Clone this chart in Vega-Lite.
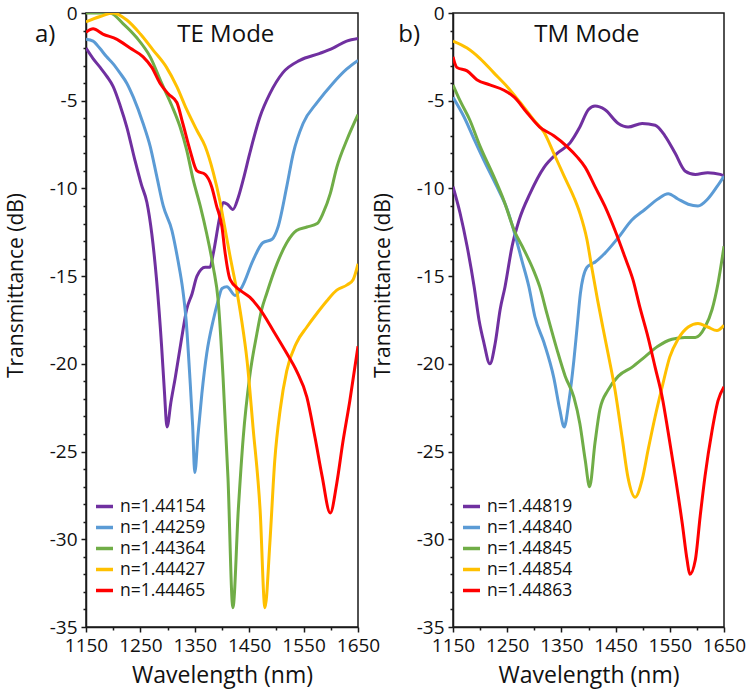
{
  "$schema": "https://vega.github.io/schema/vega-lite/v6.json",
  "padding": {"left": 4, "top": 3, "right": 5, "bottom": 2},
  "config": {
    "font": "Open Sans",
    "view": {"stroke": "#1a1a1a", "strokeWidth": 1.5},
    "axis": {"labelFont": "Open Sans", "titleFont": "Open Sans", "labelColor": "#111", "titleColor": "#111", "labelFontSize": 19, "titleFontSize": 23, "titleFontWeight": "normal", "grid": false, "domainColor": "#1a1a1a", "domainWidth": 1.5, "tickColor": "#1a1a1a", "tickWidth": 1.5, "tickSize": 5, "labelPadding": 4, "labelOverlap": false, "labelFlush": false, "labelExpr": "datum.value"},
    "legend": {"labelFont": "Open Sans", "labelFontSize": 17.5, "labelColor": "#111"},
    "text": {"font": "Open Sans", "color": "#111"}
  },
  "bounds": "flush",
  "spacing": 95,
  "resolve": {"scale": {"color": "independent"}, "legend": {"color": "independent"}},
  "datasets": {
    "te": [
      {"s":"n=1.44154","x":1150,"y":-2.0},{"s":"n=1.44154","x":1163,"y":-2.6},{"s":"n=1.44154","x":1176,"y":-3.1},{"s":"n=1.44154","x":1188,"y":-3.6},{"s":"n=1.44154","x":1200,"y":-4.2},{"s":"n=1.44154","x":1213,"y":-5.3},{"s":"n=1.44154","x":1225,"y":-6.5},{"s":"n=1.44154","x":1240,"y":-8.4},{"s":"n=1.44154","x":1252,"y":-9.8},{"s":"n=1.44154","x":1262,"y":-10.8},{"s":"n=1.44154","x":1271,"y":-12.6},{"s":"n=1.44154","x":1280,"y":-15.3},{"s":"n=1.44154","x":1289,"y":-19.0},{"s":"n=1.44154","x":1294,"y":-21.5},{"s":"n=1.44154","x":1299,"y":-23.6},{"s":"n=1.44154","x":1306,"y":-22.2},{"s":"n=1.44154","x":1314,"y":-20.8},{"s":"n=1.44154","x":1326,"y":-18.5},{"s":"n=1.44154","x":1335,"y":-16.9},{"s":"n=1.44154","x":1345,"y":-16.0},{"s":"n=1.44154","x":1354,"y":-15.0},{"s":"n=1.44154","x":1369,"y":-14.5},{"s":"n=1.44154","x":1378,"y":-14.5},{"s":"n=1.44154","x":1384,"y":-13.7},{"s":"n=1.44154","x":1396,"y":-11.6},{"s":"n=1.44154","x":1402,"y":-10.8},{"s":"n=1.44154","x":1410,"y":-10.9},{"s":"n=1.44154","x":1420,"y":-11.2},{"s":"n=1.44154","x":1430,"y":-10.5},{"s":"n=1.44154","x":1439,"y":-9.5},{"s":"n=1.44154","x":1451,"y":-8.0},{"s":"n=1.44154","x":1470,"y":-5.9},{"s":"n=1.44154","x":1488,"y":-4.6},{"s":"n=1.44154","x":1512,"y":-3.4},{"s":"n=1.44154","x":1543,"y":-2.7},{"s":"n=1.44154","x":1580,"y":-2.3},{"s":"n=1.44154","x":1604,"y":-2.0},{"s":"n=1.44154","x":1629,"y":-1.6},{"s":"n=1.44154","x":1650,"y":-1.45},
      {"s":"n=1.44259","x":1150,"y":-1.5},{"s":"n=1.44259","x":1163,"y":-1.6},{"s":"n=1.44259","x":1175,"y":-2.0},{"s":"n=1.44259","x":1188,"y":-2.5},{"s":"n=1.44259","x":1200,"y":-2.9},{"s":"n=1.44259","x":1212,"y":-3.4},{"s":"n=1.44259","x":1225,"y":-4.0},{"s":"n=1.44259","x":1237,"y":-4.8},{"s":"n=1.44259","x":1255,"y":-6.3},{"s":"n=1.44259","x":1268,"y":-7.6},{"s":"n=1.44259","x":1280,"y":-9.3},{"s":"n=1.44259","x":1292,"y":-11.0},{"s":"n=1.44259","x":1308,"y":-12.4},{"s":"n=1.44259","x":1319,"y":-14.1},{"s":"n=1.44259","x":1328,"y":-15.8},{"s":"n=1.44259","x":1334,"y":-17.5},{"s":"n=1.44259","x":1341,"y":-20.8},{"s":"n=1.44259","x":1346,"y":-23.5},{"s":"n=1.44259","x":1350,"y":-26.2},{"s":"n=1.44259","x":1356,"y":-24.0},{"s":"n=1.44259","x":1363,"y":-21.7},{"s":"n=1.44259","x":1372,"y":-19.4},{"s":"n=1.44259","x":1384,"y":-17.5},{"s":"n=1.44259","x":1392,"y":-16.5},{"s":"n=1.44259","x":1400,"y":-15.7},{"s":"n=1.44259","x":1409,"y":-15.6},{"s":"n=1.44259","x":1424,"y":-16.1},{"s":"n=1.44259","x":1437,"y":-15.6},{"s":"n=1.44259","x":1457,"y":-14.1},{"s":"n=1.44259","x":1475,"y":-13.1},{"s":"n=1.44259","x":1492,"y":-12.9},{"s":"n=1.44259","x":1503,"y":-12.2},{"s":"n=1.44259","x":1519,"y":-9.9},{"s":"n=1.44259","x":1531,"y":-8.0},{"s":"n=1.44259","x":1549,"y":-6.3},{"s":"n=1.44259","x":1575,"y":-5.1},{"s":"n=1.44259","x":1604,"y":-4.0},{"s":"n=1.44259","x":1629,"y":-3.2},{"s":"n=1.44259","x":1650,"y":-2.7},
      {"s":"n=1.44364","x":1150,"y":0},{"s":"n=1.44364","x":1170,"y":0},{"s":"n=1.44364","x":1194,"y":0},{"s":"n=1.44364","x":1218,"y":-0.6},{"s":"n=1.44364","x":1243,"y":-1.4},{"s":"n=1.44364","x":1268,"y":-2.5},{"s":"n=1.44364","x":1289,"y":-4.0},{"s":"n=1.44364","x":1308,"y":-5.3},{"s":"n=1.44364","x":1323,"y":-6.5},{"s":"n=1.44364","x":1335,"y":-7.8},{"s":"n=1.44364","x":1347,"y":-9.5},{"s":"n=1.44364","x":1360,"y":-11.0},{"s":"n=1.44364","x":1372,"y":-12.6},{"s":"n=1.44364","x":1384,"y":-14.5},{"s":"n=1.44364","x":1393,"y":-16.4},{"s":"n=1.44364","x":1402,"y":-20.8},{"s":"n=1.44364","x":1411,"y":-26.5},{"s":"n=1.44364","x":1420,"y":-33.9},{"s":"n=1.44364","x":1430,"y":-28.3},{"s":"n=1.44364","x":1439,"y":-24.2},{"s":"n=1.44364","x":1451,"y":-20.7},{"s":"n=1.44364","x":1464,"y":-18.3},{"s":"n=1.44364","x":1473,"y":-16.9},{"s":"n=1.44364","x":1482,"y":-16.0},{"s":"n=1.44364","x":1501,"y":-14.3},{"s":"n=1.44364","x":1519,"y":-13.1},{"s":"n=1.44364","x":1537,"y":-12.4},{"s":"n=1.44364","x":1556,"y":-12.2},{"s":"n=1.44364","x":1575,"y":-12.0},{"s":"n=1.44364","x":1586,"y":-11.4},{"s":"n=1.44364","x":1599,"y":-10.3},{"s":"n=1.44364","x":1611,"y":-8.8},{"s":"n=1.44364","x":1630,"y":-7.2},{"s":"n=1.44364","x":1650,"y":-5.8},
      {"s":"n=1.44427","x":1150,"y":-0.5},{"s":"n=1.44427","x":1176,"y":-0.2},{"s":"n=1.44427","x":1200,"y":0},{"s":"n=1.44427","x":1225,"y":-0.4},{"s":"n=1.44427","x":1250,"y":-1.2},{"s":"n=1.44427","x":1273,"y":-2.1},{"s":"n=1.44427","x":1298,"y":-3.1},{"s":"n=1.44427","x":1317,"y":-4.2},{"s":"n=1.44427","x":1335,"y":-5.5},{"s":"n=1.44427","x":1354,"y":-6.7},{"s":"n=1.44427","x":1369,"y":-7.6},{"s":"n=1.44427","x":1384,"y":-9.1},{"s":"n=1.44427","x":1396,"y":-10.7},{"s":"n=1.44427","x":1405,"y":-12.2},{"s":"n=1.44427","x":1415,"y":-13.9},{"s":"n=1.44427","x":1427,"y":-15.8},{"s":"n=1.44427","x":1436,"y":-17.5},{"s":"n=1.44427","x":1446,"y":-19.8},{"s":"n=1.44427","x":1457,"y":-23.6},{"s":"n=1.44427","x":1470,"y":-28.3},{"s":"n=1.44427","x":1479,"y":-33.9},{"s":"n=1.44427","x":1488,"y":-30.2},{"s":"n=1.44427","x":1497,"y":-25.5},{"s":"n=1.44427","x":1507,"y":-22.6},{"s":"n=1.44427","x":1519,"y":-20.4},{"s":"n=1.44427","x":1537,"y":-18.8},{"s":"n=1.44427","x":1556,"y":-17.9},{"s":"n=1.44427","x":1575,"y":-17.1},{"s":"n=1.44427","x":1593,"y":-16.4},{"s":"n=1.44427","x":1611,"y":-15.8},{"s":"n=1.44427","x":1630,"y":-15.5},{"s":"n=1.44427","x":1641,"y":-15.2},{"s":"n=1.44427","x":1650,"y":-14.3},
      {"s":"n=1.44465","x":1150,"y":-1.1},{"s":"n=1.44465","x":1163,"y":-0.9},{"s":"n=1.44465","x":1181,"y":-1.2},{"s":"n=1.44465","x":1207,"y":-1.5},{"s":"n=1.44465","x":1231,"y":-2.0},{"s":"n=1.44465","x":1255,"y":-2.5},{"s":"n=1.44465","x":1271,"y":-3.1},{"s":"n=1.44465","x":1286,"y":-4.0},{"s":"n=1.44465","x":1301,"y":-4.6},{"s":"n=1.44465","x":1317,"y":-5.1},{"s":"n=1.44465","x":1328,"y":-6.3},{"s":"n=1.44465","x":1341,"y":-7.8},{"s":"n=1.44465","x":1354,"y":-9.0},{"s":"n=1.44465","x":1369,"y":-9.2},{"s":"n=1.44465","x":1381,"y":-9.9},{"s":"n=1.44465","x":1390,"y":-11.0},{"s":"n=1.44465","x":1400,"y":-12.2},{"s":"n=1.44465","x":1405,"y":-13.5},{"s":"n=1.44465","x":1415,"y":-15.2},{"s":"n=1.44465","x":1433,"y":-15.8},{"s":"n=1.44465","x":1451,"y":-16.2},{"s":"n=1.44465","x":1470,"y":-16.9},{"s":"n=1.44465","x":1494,"y":-18.1},{"s":"n=1.44465","x":1519,"y":-19.4},{"s":"n=1.44465","x":1537,"y":-20.4},{"s":"n=1.44465","x":1556,"y":-21.9},{"s":"n=1.44465","x":1571,"y":-24.2},{"s":"n=1.44465","x":1584,"y":-26.4},{"s":"n=1.44465","x":1599,"y":-28.5},{"s":"n=1.44465","x":1611,"y":-26.8},{"s":"n=1.44465","x":1622,"y":-24.5},{"s":"n=1.44465","x":1635,"y":-22.1},{"s":"n=1.44465","x":1650,"y":-19.0}
    ],
    "tm": [
      {"s":"n=1.44819","x":1150,"y":-9.9},{"s":"n=1.44819","x":1163,"y":-11.4},{"s":"n=1.44819","x":1176,"y":-13.3},{"s":"n=1.44819","x":1189,"y":-15.6},{"s":"n=1.44819","x":1198,"y":-17.5},{"s":"n=1.44819","x":1207,"y":-18.8},{"s":"n=1.44819","x":1218,"y":-20.0},{"s":"n=1.44819","x":1228,"y":-18.8},{"s":"n=1.44819","x":1237,"y":-16.9},{"s":"n=1.44819","x":1246,"y":-15.6},{"s":"n=1.44819","x":1259,"y":-13.3},{"s":"n=1.44819","x":1272,"y":-11.8},{"s":"n=1.44819","x":1292,"y":-10.3},{"s":"n=1.44819","x":1318,"y":-8.8},{"s":"n=1.44819","x":1342,"y":-8.0},{"s":"n=1.44819","x":1366,"y":-7.4},{"s":"n=1.44819","x":1384,"y":-6.5},{"s":"n=1.44819","x":1400,"y":-5.5},{"s":"n=1.44819","x":1412,"y":-5.3},{"s":"n=1.44819","x":1430,"y":-5.5},{"s":"n=1.44819","x":1455,"y":-6.3},{"s":"n=1.44819","x":1473,"y":-6.5},{"s":"n=1.44819","x":1499,"y":-6.3},{"s":"n=1.44819","x":1523,"y":-6.4},{"s":"n=1.44819","x":1541,"y":-7.0},{"s":"n=1.44819","x":1560,"y":-8.0},{"s":"n=1.44819","x":1578,"y":-9.0},{"s":"n=1.44819","x":1597,"y":-9.2},{"s":"n=1.44819","x":1620,"y":-9.1},{"s":"n=1.44819","x":1643,"y":-9.2},{"s":"n=1.44819","x":1650,"y":-9.3},
      {"s":"n=1.44840","x":1150,"y":-4.8},{"s":"n=1.44840","x":1170,"y":-5.9},{"s":"n=1.44840","x":1189,"y":-7.2},{"s":"n=1.44840","x":1207,"y":-8.4},{"s":"n=1.44840","x":1231,"y":-9.9},{"s":"n=1.44840","x":1250,"y":-11.2},{"s":"n=1.44840","x":1264,"y":-12.6},{"s":"n=1.44840","x":1277,"y":-14.1},{"s":"n=1.44840","x":1290,"y":-15.6},{"s":"n=1.44840","x":1301,"y":-17.3},{"s":"n=1.44840","x":1318,"y":-18.8},{"s":"n=1.44840","x":1336,"y":-20.8},{"s":"n=1.44840","x":1347,"y":-22.6},{"s":"n=1.44840","x":1355,"y":-23.6},{"s":"n=1.44840","x":1364,"y":-22.1},{"s":"n=1.44840","x":1373,"y":-19.8},{"s":"n=1.44840","x":1379,"y":-17.9},{"s":"n=1.44840","x":1385,"y":-16.0},{"s":"n=1.44840","x":1397,"y":-14.5},{"s":"n=1.44840","x":1406,"y":-14.3},{"s":"n=1.44840","x":1412,"y":-14.2},{"s":"n=1.44840","x":1430,"y":-13.7},{"s":"n=1.44840","x":1455,"y":-12.8},{"s":"n=1.44840","x":1480,"y":-11.8},{"s":"n=1.44840","x":1504,"y":-11.2},{"s":"n=1.44840","x":1528,"y":-10.6},{"s":"n=1.44840","x":1547,"y":-10.3},{"s":"n=1.44840","x":1565,"y":-10.6},{"s":"n=1.44840","x":1584,"y":-10.9},{"s":"n=1.44840","x":1602,"y":-11.0},{"s":"n=1.44840","x":1620,"y":-10.6},{"s":"n=1.44840","x":1637,"y":-9.9},{"s":"n=1.44840","x":1650,"y":-9.3},
      {"s":"n=1.44845","x":1150,"y":-4.1},{"s":"n=1.44845","x":1163,"y":-5.0},{"s":"n=1.44845","x":1181,"y":-6.1},{"s":"n=1.44845","x":1200,"y":-7.6},{"s":"n=1.44845","x":1225,"y":-9.3},{"s":"n=1.44845","x":1244,"y":-10.7},{"s":"n=1.44845","x":1263,"y":-12.4},{"s":"n=1.44845","x":1281,"y":-13.5},{"s":"n=1.44845","x":1299,"y":-14.7},{"s":"n=1.44845","x":1310,"y":-15.6},{"s":"n=1.44845","x":1323,"y":-17.1},{"s":"n=1.44845","x":1342,"y":-19.2},{"s":"n=1.44845","x":1357,"y":-20.7},{"s":"n=1.44845","x":1373,"y":-21.9},{"s":"n=1.44845","x":1384,"y":-23.4},{"s":"n=1.44845","x":1394,"y":-25.5},{"s":"n=1.44845","x":1402,"y":-27.0},{"s":"n=1.44845","x":1412,"y":-24.5},{"s":"n=1.44845","x":1421,"y":-22.6},{"s":"n=1.44845","x":1436,"y":-21.5},{"s":"n=1.44845","x":1455,"y":-20.7},{"s":"n=1.44845","x":1480,"y":-20.2},{"s":"n=1.44845","x":1504,"y":-19.6},{"s":"n=1.44845","x":1528,"y":-19.0},{"s":"n=1.44845","x":1554,"y":-18.6},{"s":"n=1.44845","x":1578,"y":-18.5},{"s":"n=1.44845","x":1597,"y":-18.5},{"s":"n=1.44845","x":1615,"y":-17.9},{"s":"n=1.44845","x":1628,"y":-16.9},{"s":"n=1.44845","x":1639,"y":-15.4},{"s":"n=1.44845","x":1650,"y":-13.3},
      {"s":"n=1.44854","x":1150,"y":-1.6},{"s":"n=1.44854","x":1176,"y":-2.0},{"s":"n=1.44854","x":1200,"y":-2.6},{"s":"n=1.44854","x":1225,"y":-3.4},{"s":"n=1.44854","x":1250,"y":-4.2},{"s":"n=1.44854","x":1274,"y":-5.1},{"s":"n=1.44854","x":1299,"y":-6.1},{"s":"n=1.44854","x":1318,"y":-6.8},{"s":"n=1.44854","x":1336,"y":-8.0},{"s":"n=1.44854","x":1355,"y":-9.3},{"s":"n=1.44854","x":1373,"y":-10.5},{"s":"n=1.44854","x":1384,"y":-11.4},{"s":"n=1.44854","x":1397,"y":-12.9},{"s":"n=1.44854","x":1406,"y":-14.5},{"s":"n=1.44854","x":1417,"y":-16.4},{"s":"n=1.44854","x":1427,"y":-18.0},{"s":"n=1.44854","x":1436,"y":-19.4},{"s":"n=1.44854","x":1449,"y":-21.5},{"s":"n=1.44854","x":1462,"y":-24.2},{"s":"n=1.44854","x":1473,"y":-26.5},{"s":"n=1.44854","x":1486,"y":-27.6},{"s":"n=1.44854","x":1499,"y":-26.6},{"s":"n=1.44854","x":1510,"y":-24.9},{"s":"n=1.44854","x":1523,"y":-23.0},{"s":"n=1.44854","x":1536,"y":-21.3},{"s":"n=1.44854","x":1550,"y":-19.6},{"s":"n=1.44854","x":1565,"y":-18.6},{"s":"n=1.44854","x":1584,"y":-17.9},{"s":"n=1.44854","x":1602,"y":-17.7},{"s":"n=1.44854","x":1620,"y":-17.9},{"s":"n=1.44854","x":1637,"y":-18.1},{"s":"n=1.44854","x":1650,"y":-17.8},
      {"s":"n=1.44863","x":1150,"y":-2.5},{"s":"n=1.44863","x":1157,"y":-3.1},{"s":"n=1.44863","x":1176,"y":-3.3},{"s":"n=1.44863","x":1194,"y":-3.8},{"s":"n=1.44863","x":1218,"y":-4.1},{"s":"n=1.44863","x":1244,"y":-4.4},{"s":"n=1.44863","x":1263,"y":-4.8},{"s":"n=1.44863","x":1287,"y":-5.7},{"s":"n=1.44863","x":1310,"y":-6.5},{"s":"n=1.44863","x":1336,"y":-7.0},{"s":"n=1.44863","x":1360,"y":-7.6},{"s":"n=1.44863","x":1379,"y":-8.2},{"s":"n=1.44863","x":1394,"y":-8.8},{"s":"n=1.44863","x":1412,"y":-9.9},{"s":"n=1.44863","x":1430,"y":-11.0},{"s":"n=1.44863","x":1449,"y":-12.4},{"s":"n=1.44863","x":1467,"y":-13.9},{"s":"n=1.44863","x":1482,"y":-15.2},{"s":"n=1.44863","x":1495,"y":-16.8},{"s":"n=1.44863","x":1510,"y":-18.5},{"s":"n=1.44863","x":1523,"y":-20.2},{"s":"n=1.44863","x":1536,"y":-21.9},{"s":"n=1.44863","x":1547,"y":-23.9},{"s":"n=1.44863","x":1560,"y":-26.4},{"s":"n=1.44863","x":1573,"y":-29.1},{"s":"n=1.44863","x":1582,"y":-31.2},{"s":"n=1.44863","x":1587,"y":-32.0},{"s":"n=1.44863","x":1597,"y":-31.2},{"s":"n=1.44863","x":1606,"y":-28.7},{"s":"n=1.44863","x":1615,"y":-26.4},{"s":"n=1.44863","x":1628,"y":-23.8},{"s":"n=1.44863","x":1639,"y":-22.1},{"s":"n=1.44863","x":1650,"y":-21.3}
    ]
  },
  "hconcat": [
    {
      "width": 272,
      "height": 614,
      "layer": [
        {
          "data": {"name": "te"},
          "mark": {"type": "line", "strokeWidth": 3, "interpolate": "monotone", "clip": true},
          "encoding": {
            "x": {"field": "x", "type": "quantitative", "scale": {"domain": [1150, 1650], "nice": false, "zero": false}, "axis": {"values": [1150, 1250, 1350, 1450, 1550, 1650], "title": "Wavelength (nm)", "titlePadding": 9, "labelPadding": 4}},
            "y": {"field": "y", "type": "quantitative", "scale": {"domain": [-35, 0], "nice": false, "zero": false}, "axis": {"values": [0, -5, -10, -15, -20, -25, -30, -35], "title": "Transmittance (dB)", "titleFontSize": 21, "titlePadding": 23, "titleY": 272}},
            "color": {"field": "s", "type": "nominal", "scale": {"domain": ["n=1.44154", "n=1.44259", "n=1.44364", "n=1.44427", "n=1.44465"], "range": ["#7030A0", "#5B9BD5", "#70AD47", "#FFC000", "#FF0000"]}, "legend": {"orient": "none", "legendX": 8, "legendY": 483, "title": null, "symbolType": "stroke", "symbolStrokeWidth": 3.5, "symbolSize": 289, "rowPadding": 2, "labelOffset": 5, "padding": 0}}
          }
        },
        {
          "data": {"values": [{"x": 1407, "y": -1.25, "t": "TE Mode"}, {"x": 1075, "y": -1.25, "t": "a)"}]},
          "mark": {"type": "text", "fontSize": 24},
          "encoding": {
            "x": {"field": "x", "type": "quantitative", "scale": {"domain": [1150, 1650], "nice": false, "zero": false}, "axis": {"orient": "bottom", "values": [1200, 1300, 1400, 1500, 1600], "labels": false, "domain": false, "tickSize": 3, "title": null}},
            "y": {"field": "y", "type": "quantitative", "scale": {"domain": [-35, 0], "nice": false, "zero": false}, "axis": {"orient": "left", "values": [-1, -2, -3, -4, -6, -7, -8, -9, -11, -12, -13, -14, -16, -17, -18, -19, -21, -22, -23, -24, -26, -27, -28, -29, -31, -32, -33, -34], "labels": false, "domain": false, "tickSize": 3, "title": null}},
            "text": {"field": "t"}
          }
        }
      ],
      "resolve": {"axis": {"x": "independent", "y": "independent"}}
    },
    {
      "width": 271,
      "height": 614,
      "layer": [
        {
          "data": {"name": "tm"},
          "mark": {"type": "line", "strokeWidth": 3, "interpolate": "monotone", "clip": true},
          "encoding": {
            "x": {"field": "x", "type": "quantitative", "scale": {"domain": [1150, 1650], "nice": false, "zero": false}, "axis": {"values": [1150, 1250, 1350, 1450, 1550, 1650], "title": "Wavelength (nm)", "titlePadding": 9, "labelPadding": 4}},
            "y": {"field": "y", "type": "quantitative", "scale": {"domain": [-35, 0], "nice": false, "zero": false}, "axis": {"values": [0, -5, -10, -15, -20, -25, -30, -35], "title": "Transmittance (dB)", "titleFontSize": 21, "titlePadding": 23, "titleY": 272}},
            "color": {"field": "s", "type": "nominal", "scale": {"domain": ["n=1.44819", "n=1.44840", "n=1.44845", "n=1.44854", "n=1.44863"], "range": ["#7030A0", "#5B9BD5", "#70AD47", "#FFC000", "#FF0000"]}, "legend": {"orient": "none", "legendX": 8, "legendY": 483, "title": null, "symbolType": "stroke", "symbolStrokeWidth": 3.5, "symbolSize": 289, "rowPadding": 2, "labelOffset": 5, "padding": 0}}
          }
        },
        {
          "data": {"values": [{"x": 1397, "y": -1.25, "t": "TM Mode"}, {"x": 1069, "y": -1.25, "t": "b)"}]},
          "mark": {"type": "text", "fontSize": 24},
          "encoding": {
            "x": {"field": "x", "type": "quantitative", "scale": {"domain": [1150, 1650], "nice": false, "zero": false}, "axis": {"orient": "bottom", "values": [1200, 1300, 1400, 1500, 1600], "labels": false, "domain": false, "tickSize": 3, "title": null}},
            "y": {"field": "y", "type": "quantitative", "scale": {"domain": [-35, 0], "nice": false, "zero": false}, "axis": {"orient": "left", "values": [-1, -2, -3, -4, -6, -7, -8, -9, -11, -12, -13, -14, -16, -17, -18, -19, -21, -22, -23, -24, -26, -27, -28, -29, -31, -32, -33, -34], "labels": false, "domain": false, "tickSize": 3, "title": null}},
            "text": {"field": "t"}
          }
        }
      ],
      "resolve": {"axis": {"x": "independent", "y": "independent"}}
    }
  ]
}
